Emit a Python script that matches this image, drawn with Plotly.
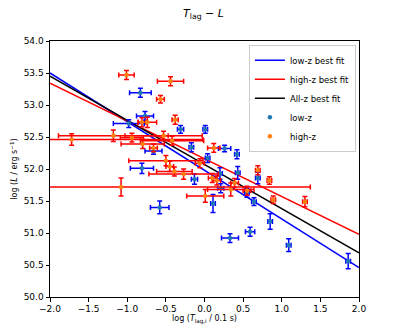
import plotly.graph_objects as go

# low-z sample
low_x = [-0.83, -0.77, -0.31, 0.01, -0.98, -0.66, -0.81, -0.58, 0.26, -0.17, 0.42, 0.04, -0.13,
         0.20, 0.43, 0.21, 0.11, 0.55, 0.64, 0.69, 0.85, 0.59, 0.33, 1.09, 1.86]
low_y = [53.19, 52.83, 52.62, 52.62, 52.71, 52.28, 52.01, 51.40, 52.32, 52.34, 52.23, 52.17, 51.84,
         51.93, 51.94, 51.70, 51.46, 51.63, 51.49, 51.86, 51.18, 51.02, 50.92, 50.81, 50.56]
low_xerr = [0.14, 0.11, 0.04, 0.03, 0.20, 0.11, 0.15, 0.12, 0.08, 0.03, 0.03, 0.03, 0.04,
            0.03, 0.03, 0.04, 0.03, 0.03, 0.03, 0.03, 0.03, 0.06, 0.11, 0.03, 0.03]
low_yerr = [0.07, 0.07, 0.06, 0.06, 0.06, 0.05, 0.08, 0.10, 0.05, 0.07, 0.07, 0.07, 0.08,
            0.09, 0.10, 0.07, 0.14, 0.07, 0.06, 0.09, 0.12, 0.07, 0.07, 0.10, 0.12]

# high-z sample
high_x = [-1.01, -0.44, -0.57, -0.38, -0.81, -0.74, -1.72, -1.18, -0.94, -0.53, -0.42, -0.80, -0.66,
          -0.50, -0.45, -0.39, -0.27, -1.08, 0.12, -0.06, 0.10, 0.16, 0.34, 0.55, 0.39, 0.69,
          0.84, 0.89, 1.30, 0.01]
high_y = [53.47, 53.37, 53.09, 52.77, 52.73, 52.73, 52.46, 52.52, 52.49, 52.52, 52.44, 52.39, 52.33,
          52.13, 52.04, 51.96, 51.92, 51.72, 52.33, 52.09, 51.86, 51.82, 51.68, 51.66, 51.78, 51.98,
          51.82, 51.52, 51.49, 51.58]
high_xerr = [0.10, 0.17, 0.05, 0.04, 0.05, 0.12, 1.70, 0.71, 0.15, 0.50, 0.41, 0.28, 0.05,
             0.48, 0.05, 0.23, 0.45, 2.45, 0.08, 0.06, 0.05, 0.05, 0.30, 0.05, 0.05, 0.03,
             0.03, 0.03, 0.03, 0.24]
high_yerr = [0.07, 0.07, 0.06, 0.07, 0.07, 0.08, 0.09, 0.09, 0.07, 0.07, 0.07, 0.07, 0.06,
             0.08, 0.08, 0.07, 0.08, 0.14, 0.07, 0.07, 0.07, 0.07, 0.10, 0.07, 0.07, 0.07,
             0.06, 0.06, 0.08, 0.10]

# best fits: (intercept, slope)
fit_names = ["low-z best fit", "high-z best fit", "All-z best fit"]
fit_params = [(51.98, -0.76), (52.16, -0.59), (52.07, -0.69)]
fit_colors = ["blue", "red", "black"]
fit_x = [-2.0, 2.0]

fig = go.Figure()

for name, (a, b), c in zip(fit_names, fit_params, fit_colors):
    fig.add_trace(go.Scatter(x=fit_x, y=[a + b * x for x in fit_x], mode="lines",
                             name=name, line=dict(color=c, width=1.5)))

fig.add_trace(go.Scatter(
    x=low_x, y=low_y, mode="markers", name="low-z",
    marker=dict(color="#1f77b4", size=4.5),
    error_x=dict(type="data", array=low_xerr, color="blue", thickness=1.5, width=2.5),
    error_y=dict(type="data", array=low_yerr, color="blue", thickness=1.5, width=2.5),
))
fig.add_trace(go.Scatter(
    x=high_x, y=high_y, mode="markers", name="high-z",
    marker=dict(color="#ff7f0e", size=4.5),
    error_x=dict(type="data", array=high_xerr, color="red", thickness=1.5, width=2.5),
    error_y=dict(type="data", array=high_yerr, color="red", thickness=1.5, width=2.5),
))

axis_style = dict(showline=True, mirror=True, linecolor="black", linewidth=1,
                  ticks="outside", ticklen=3.5, tickcolor="black", showgrid=False,
                  zeroline=False, tickformat=".1f", automargin=False,
                  tickfont=dict(size=9, color="black"))

fig.update_layout(
    width=391, height=324,
    margin=dict(l=42, r=40, t=33, b=35),
    plot_bgcolor="white", paper_bgcolor="white",
    font=dict(family="DejaVu Sans", size=9, color="black"),
    title=dict(text="<i>T</i><sub>lag</sub> − <i>L</i>", x=0.5, xanchor="center",
               y=0.985, yanchor="middle", automargin=False, font=dict(size=11)),
    xaxis=dict(range=[-2, 2], dtick=0.5,
               title=dict(text="log (<i>T</i><sub>lag,i</sub> / 0.1 s)", standoff=0,
                          font=dict(size=8)), **axis_style),
    yaxis=dict(range=[50, 54], dtick=0.5,
               title=dict(text="log (<i>L</i> / erg s<sup>−1</sup>)", standoff=4,
                          font=dict(size=8)), **axis_style),
    legend=dict(x=0.99, y=0.985, xanchor="right", yanchor="top",
                bgcolor="rgba(255,255,255,0.8)", bordercolor="#cccccc", borderwidth=1,
                font=dict(size=8.5), tracegroupgap=0, itemwidth=30),
    showlegend=True,
)

fig.write_html("out.html")
